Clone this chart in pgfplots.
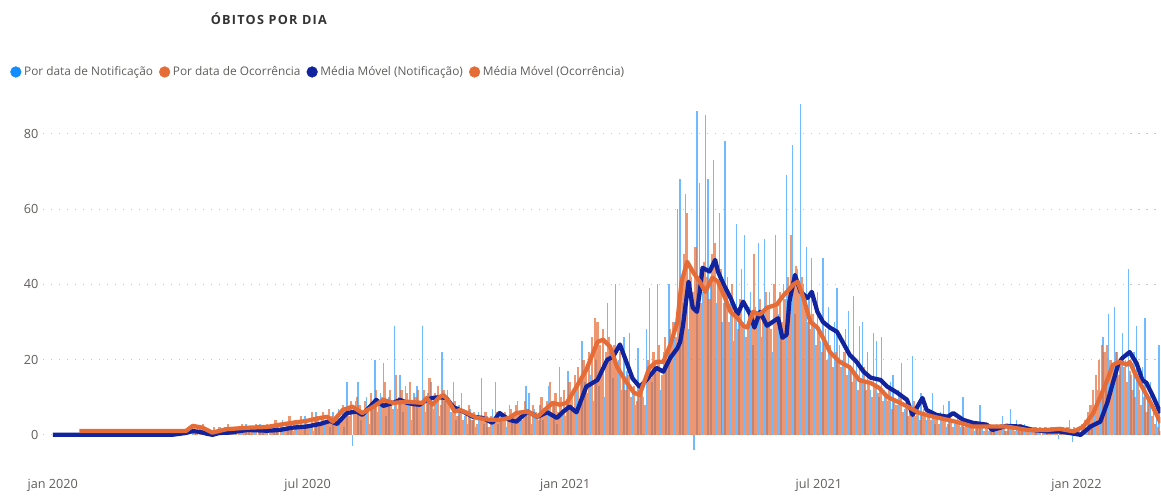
\documentclass[border=0pt]{standalone}
\usepackage{pgfplots}
\pgfplotsset{compat=1.18}
\usepackage{pgfplotstable}
\usepackage{fontspec}
\setmainfont{Open Sans}

\definecolor{cNot}{HTML}{118DFF}
\definecolor{cOco}{HTML}{E66C37}
\definecolor{cMMN}{HTML}{12239E}
\definecolor{cTxt}{HTML}{605E5C}
\definecolor{cTit}{HTML}{333333}
\definecolor{cGrid}{HTML}{C8C6C4}

% dias desde 01/01/2020; nb = notificacao (dia d), no = ocorrencia (dia d+1)
\pgfplotstableread{
d nb no
100 3 2
102 1 1
104 0 2
106 1 3
108 2 1
110 0 0
112 0 1
114 0 2
116 1 1
118 0 2
120 2 1
122 1 2
124 0 3
126 1 1
128 2 2
130 1 1
132 0 2
134 2 3
136 1 1
138 3 2
140 1 2
142 2 1
144 1 3
146 0 2
148 3 1
150 1 2
152 2 3
154 0 2
156 1 1
158 3 4
160 2 2
162 0 3
164 4 2
166 1 3
168 2 5
170 3 2
172 1 4
174 4 3
176 2 5
178 0 2
180 5 4
182 2 3
184 3 6
186 1 4
188 6 5
190 2 3
192 4 6
194 3 4
196 5 7
198 2 5
200 6 3
202 3 5
204 7 3
206 4 8
208 2 5
210 14 7
212 5 9
214 -3 6
216 9 10
218 14 8
220 4 5
222 6 9
224 10 7
226 3 11
228 8 9
230 20 12
232 6 8
234 11 10
236 19 14
238 5 9
240 10 12
242 8 7
244 29 16
246 7 10
248 16 12
250 6 9
252 13 11
254 9 14
256 4 8
258 11 10
260 13 12
262 9 8
264 29 12
266 6 10
268 11 15
270 14 9
272 7 11
274 10 13
276 5 8
278 22 12
280 9 10
282 12 8
284 6 6
286 14 9
288 4 5
290 8 7
292 11 4
294 5 6
296 3 8
298 7 4
300 4 6
302 2 3
304 6 5
306 15 4
308 3 6
310 5 2
312 2 5
314 7 3
316 14 6
318 3 4
320 6 5
322 4 6
324 2 4
326 8 7
328 5 5
330 3 8
332 9 6
334 4 4
336 6 9
338 13 7
340 11 5
342 3 8
344 7 6
346 5 4
348 8 10
350 4 7
352 6 9
354 13 14
356 5 8
358 9 11
360 3 6
362 18 10
364 7 12
366 5 9
368 17 14
370 8 11
372 6 16
374 12 18
376 9 14
378 25 20
380 14 17
382 11 22
384 16 26
386 9 31
388 20 30
390 13 24
392 18 28
394 10 22
396 35 26
398 22 20
400 15 24
402 40 18
404 20 22
406 12 15
408 26 12
410 17 16
412 27 10
414 11 13
416 8 9
418 23 12
420 13 14
422 10 8
424 28 20
426 39 15
428 14 22
430 19 18
432 40 24
434 12 16
436 22 26
438 18 20
440 40 28
442 24 30
444 30 26
446 60 36
448 68 42
450 35 48
452 64 59
454 28 44
456 42 38
458 -4 50
460 86 40
462 67 35
464 38 46
466 85 42
468 68 36
470 40 48
472 73 51
474 35 40
476 59 44
478 30 35
480 78 38
482 42 30
484 36 40
486 25 33
488 56 28
490 30 36
492 44 30
494 53 26
496 28 34
498 38 30
500 24 48
502 34 30
504 51 36
506 26 32
508 52 38
510 30 34
512 38 28
514 22 40
516 53 34
518 32 38
520 28 30
522 40 36
524 69 42
526 36 53
528 77 40
530 32 45
532 44 38
534 88 42
536 40 34
538 50 30
540 36 28
542 47 32
544 30 24
546 38 28
548 25 22
550 47 26
552 28 20
554 34 24
556 22 18
558 30 22
560 39 20
562 24 18
564 20 22
566 28 16
568 33 18
570 18 14
572 37 16
574 20 12
576 29 15
578 30 18
580 14 12
582 22 14
584 12 10
586 27 13
588 25 11
590 10 12
592 26 9
594 12 10
596 9 12
598 14 7
600 16 9
602 8 8
604 12 10
606 19 6
608 7 8
610 10 5
612 6 7
614 21 9
616 5 6
618 8 4
620 11 6
622 7 5
624 4 7
626 6 4
628 11 6
630 3 5
632 5 3
634 6 5
636 8 4
638 2 3
640 9 5
642 4 2
644 3 4
646 5 3
648 2 4
650 10 2
652 3 3
654 2 4
656 4 2
658 1 3
660 3 2
662 8 3
664 2 1
666 3 2
668 1 3
670 2 2
672 1 1
674 3 2
676 2 3
678 5 2
680 1 1
682 3 2
684 7 3
686 2 1
688 4 2
690 1 3
692 2 1
694 3 2
696 1 2
698 2 1
700 0 2
702 2 1
704 1 2
706 0 1
708 2 2
710 1 1
712 0 2
714 2 1
716 1 2
718 -1 1
720 1 2
722 0 1
724 2 2
726 4 1
728 -2 2
730 0 1
732 1 2
734 0 3
736 2 4
738 1 6
740 4 8
742 3 12
744 6 16
746 12 20
748 9 24
750 26 22
752 14 24
754 32 20
756 20 18
758 34 22
760 22 16
762 18 20
764 27 18
766 20 14
768 44 17
770 16 12
772 22 10
774 29 14
776 12 8
778 18 10
780 31 6
782 10 8
784 14 5
786 6 3
788 8 2
790 24 1
}\barras

\pgfplotstableread{
d v
0 0
85 0
95 0.5
100 1
105 0.8
110 0.3
114 0
119 0.5
126 0.6
139 1.3
153 1.1
162 1.3
171 1.9
181 2.2
191 2.9
198 3.7
203 2.9
210 5.8
217 6.2
221 5.3
231 9.3
236 7.7
243 8.5
248 9.3
253 8.5
257 8.2
262 8
267 9.3
271 9.8
276 10
281 9.8
286 7.4
293 6.2
300 4.8
307 4.5
314 3.2
319 5.8
326 4
331 3.5
339 6.2
346 4.8
353 6
360 4.5
364 6
369 7.5
374 6
381 12.8
389 14.6
396 20
400 20.7
405 24
410 19
414 15
419 12.8
424 14.6
431 17.8
436 16.8
441 20.5
446 23
448 24.7
450 29
454 40.7
457 33.8
460 32.7
462 38
464 44.4
469 43.4
473 46.5
475 43.4
479 40
484 36.4
489 32
493 35.4
498 32
501 28.5
505 32.7
510 29
514 30
518 31
521 25.8
524 26.6
526 35.4
530 42.5
534 38
539 36.4
542 38
546 32.7
550 30
555 28.5
560 27.4
564 24.7
569 21.3
574 19.4
579 16.8
584 15.2
591 14.6
596 12.8
603 11.2
610 9.3
614 5.3
621 9.8
624 6.6
631 5.3
639 4.8
643 5.8
650 4
657 3.2
667 2.7
671 1.3
681 2.4
691 2.2
700 1.3
710 0.9
719 0.9
726 0.5
734 0
741 2.2
748 3.5
753 8.5
757 13.8
761 19
764 20.5
769 22
774 19
778 14.6
781 13.8
786 10
791 5.8
}\mmnot

\pgfplotstableread{
d v
19 1
95 1
100 2.4
107 1.9
114 0.6
124 1.5
139 1.9
153 2.1
162 2.7
171 3.2
181 3.7
191 4.5
196 4.8
200 3.5
207 6.6
214 7.5
221 5.8
229 7.5
236 9.3
243 8.5
253 8.8
264 8.5
267 9.8
271 8
276 10
279 10.6
282 9.3
287 6.2
291 6.6
296 5.8
303 4.5
312 4
319 4
326 4.5
331 5.8
339 6.2
346 4.8
353 7.2
357 8.5
362 8
367 8.5
374 12.8
381 17.3
389 24.7
393 25.3
398 23.4
403 18
410 13.8
415 11.2
419 10.6
426 17.8
431 19.4
436 19.4
441 24
446 30
449 40.7
453 46
457 43.4
462 40.7
466 38
471 41.8
475 40.7
480 36.4
484 32.7
489 31
493 29
496 28.5
500 32.7
505 32
510 33.8
517 34.6
521 36.7
529 40
532 40.7
536 36.4
541 30
546 28.5
550 25.8
555 22
562 19.4
569 18
576 14.5
584 13.8
590 12.5
596 10.1
605 8.5
612 7.2
619 5.8
629 4.8
639 4
648 3.2
657 2.2
667 2.2
681 2.2
696 1.3
710 1.3
719 1.6
729 0.9
736 2.2
743 5.8
748 10.1
753 14.6
757 18.6
762 19.4
767 18.6
769 19.4
774 15.4
779 12
784 8.5
789 4.8
791 3.2
}\mmoco

\begin{document}
\begin{tikzpicture}
\path (-32.25pt,-32.25pt) rectangle (838.5pt,339pt);
\node[font=\bfseries\fontsize{9.5}{11}\selectfont\addfontfeature{LetterSpace=10}, text=cTit]
  at (169.5pt,324.75pt) {ÓBITOS POR DIA};
\begin{axis}[
  at={(0pt,0pt)}, anchor=south west,
  scale only axis, width=838.5pt, height=264pt,
  xmin=-7, xmax=791, ymin=-4.5, ymax=89,
  axis line style={draw=none}, major tick length=0pt,
  ytick={0,20,40,60,80},
  ymajorgrids, grid style={cGrid, line width=0.8pt, dash pattern=on 0.8pt off 5.2pt},
  xtick={0,182,366,547,731},
  xticklabels={jan 2020,jul 2020,jan 2021,jul 2021,jan 2022},
  ticklabel style={font=\fontsize{9.5}{11}\selectfont, text=cTxt},
  xticklabel style={yshift=-17pt},
  /pgf/number format/assume math mode=true,
  legend columns=4,
  legend style={at={(axis description cs:0,1)}, anchor=west,
    xshift=-24.75pt, yshift=21pt, draw=none, fill=none, inner sep=0pt,
    font=\fontsize{8.9}{10}\selectfont, text=cTxt,
    /tikz/every even column/.append style={column sep=2.5pt}},
  legend cell align=left,
]
\addlegendimage{legend image code/.code={\fill[cNot] (4pt,0pt) circle (4pt);}}
\addlegendentry{Por data de Notificação}
\addlegendimage{legend image code/.code={\fill[cOco] (4pt,0pt) circle (4pt);}}
\addlegendentry{Por data de Ocorrência}
\addlegendimage{legend image code/.code={\fill[cMMN] (4pt,0pt) circle (4pt);}}
\addlegendentry{Média Móvel (Notificação)}
\addlegendimage{legend image code/.code={\fill[cOco] (4pt,0pt) circle (4pt);}}
\addlegendentry{Média Móvel (Ocorrência)}

\addplot[forget plot, ycomb, no marks, draw=cNot, draw opacity=0.6, line width=1.0pt]
  table[x=d, y=nb] {\barras};
\addplot[forget plot, ycomb, no marks, draw=cOco, draw opacity=0.7, line width=1.6pt]
  table[x expr=\thisrow{d}+1, y=no] {\barras};
\addplot[forget plot, no marks, draw=cMMN, line width=3.2pt, line join=round]
  table[x=d, y=v] {\mmnot};
\addplot[forget plot, no marks, draw=cOco, line width=3.2pt, line join=round]
  table[x=d, y=v] {\mmoco};
\end{axis}
\end{tikzpicture}
\end{document}
